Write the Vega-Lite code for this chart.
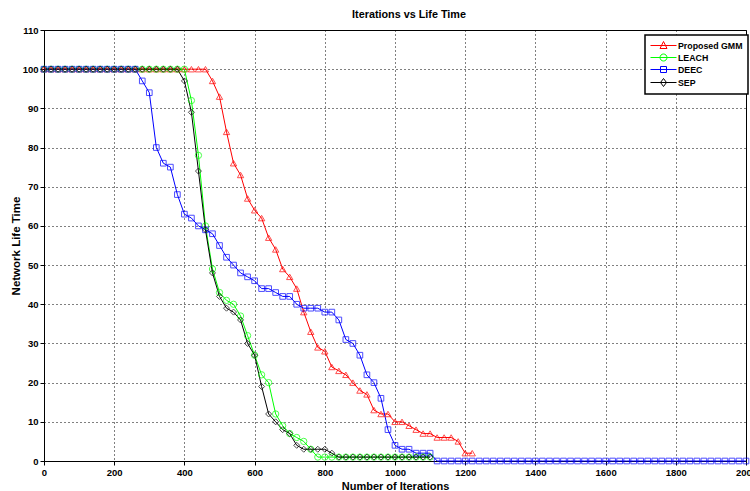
{
 "$schema": "https://vega.github.io/schema/vega-lite/v6.json",
 "width": 702, "height": 431,
 "autosize": {"type": "none"},
 "padding": {"left": 44, "top": 30, "right": 4, "bottom": 30},
 "background": "white",
 "title": {"text": "Iterations vs Life Time", "font": "Liberation Sans, Arial", "fontSize": 10.8, "fontWeight": "bold", "color": "black", "offset": 5, "dx": 14},
 "config": {
  "view": {"stroke": "black", "strokeWidth": 1},
  "axis": {
   "labelFont": "Liberation Sans, Arial", "labelFontSize": 9.5, "labelFontWeight": "bold", "labelColor": "black",
   "titleFont": "Liberation Sans, Arial", "titleFontSize": 11, "titleFontWeight": "bold", "titleColor": "black",
   "domainColor": "black", "domainWidth": 1, "tickColor": "black", "tickSize": 4,
   "grid": true, "gridColor": "black", "gridDash": [1, 3], "gridOpacity": 1, "gridWidth": 1
  },
  "legend": {
   "title": null, "orient": "none", "legendX": 601, "legendY": 5, "strokeColor": "black", "fillColor": "white", "padding": 5,
   "symbolSize": 100, "symbolStrokeWidth": 1, "labelOffset": 17, "rowPadding": 1,
   "labelFont": "Liberation Sans, Arial", "labelFontSize": 8.8, "labelFontWeight": "bold", "labelColor": "black"
  }
 },
 "data": {"values": [
  {"i":0,"GMM":100,"LEACH":100,"DEEC":100,"SEP":100},
  {"i":20,"GMM":100,"LEACH":100,"DEEC":100,"SEP":100},
  {"i":40,"GMM":100,"LEACH":100,"DEEC":100,"SEP":100},
  {"i":60,"GMM":100,"LEACH":100,"DEEC":100,"SEP":100},
  {"i":80,"GMM":100,"LEACH":100,"DEEC":100,"SEP":100},
  {"i":100,"GMM":100,"LEACH":100,"DEEC":100,"SEP":100},
  {"i":120,"GMM":100,"LEACH":100,"DEEC":100,"SEP":100},
  {"i":140,"GMM":100,"LEACH":100,"DEEC":100,"SEP":100},
  {"i":160,"GMM":100,"LEACH":100,"DEEC":100,"SEP":100},
  {"i":180,"GMM":100,"LEACH":100,"DEEC":100,"SEP":100},
  {"i":200,"GMM":100,"LEACH":100,"DEEC":100,"SEP":100},
  {"i":220,"GMM":100,"LEACH":100,"DEEC":100,"SEP":100},
  {"i":240,"GMM":100,"LEACH":100,"DEEC":100,"SEP":100},
  {"i":260,"GMM":100,"LEACH":100,"DEEC":100,"SEP":100},
  {"i":280,"GMM":100,"LEACH":100,"DEEC":97,"SEP":100},
  {"i":300,"GMM":100,"LEACH":100,"DEEC":94,"SEP":100},
  {"i":320,"GMM":100,"LEACH":100,"DEEC":80,"SEP":100},
  {"i":340,"GMM":100,"LEACH":100,"DEEC":76,"SEP":100},
  {"i":360,"GMM":100,"LEACH":100,"DEEC":75,"SEP":100},
  {"i":380,"GMM":100,"LEACH":100,"DEEC":68,"SEP":100},
  {"i":400,"GMM":100,"LEACH":100,"DEEC":63,"SEP":97},
  {"i":420,"GMM":100,"LEACH":92,"DEEC":62,"SEP":89},
  {"i":440,"GMM":100,"LEACH":78,"DEEC":60,"SEP":74},
  {"i":460,"GMM":100,"LEACH":60,"DEEC":59,"SEP":59},
  {"i":480,"GMM":97,"LEACH":49,"DEEC":58,"SEP":48},
  {"i":500,"GMM":93,"LEACH":43,"DEEC":55,"SEP":42},
  {"i":520,"GMM":84,"LEACH":41,"DEEC":52,"SEP":39},
  {"i":540,"GMM":76,"LEACH":40,"DEEC":50,"SEP":38},
  {"i":560,"GMM":73,"LEACH":37,"DEEC":48,"SEP":36},
  {"i":580,"GMM":67,"LEACH":32,"DEEC":47,"SEP":30},
  {"i":600,"GMM":64,"LEACH":27,"DEEC":46,"SEP":27},
  {"i":620,"GMM":62,"LEACH":22,"DEEC":44,"SEP":19},
  {"i":640,"GMM":57,"LEACH":20,"DEEC":44,"SEP":12},
  {"i":660,"GMM":54,"LEACH":12,"DEEC":43,"SEP":10},
  {"i":680,"GMM":49,"LEACH":9,"DEEC":42,"SEP":8},
  {"i":700,"GMM":47,"LEACH":7,"DEEC":42,"SEP":7},
  {"i":720,"GMM":44,"LEACH":6,"DEEC":40,"SEP":4},
  {"i":740,"GMM":38,"LEACH":5,"DEEC":39,"SEP":3},
  {"i":760,"GMM":33,"LEACH":3,"DEEC":39,"SEP":3},
  {"i":780,"GMM":29,"LEACH":1,"DEEC":39,"SEP":3},
  {"i":800,"GMM":28,"LEACH":1,"DEEC":38,"SEP":3},
  {"i":820,"GMM":24,"LEACH":1,"DEEC":38,"SEP":2},
  {"i":840,"GMM":23,"LEACH":1,"DEEC":36,"SEP":1},
  {"i":860,"GMM":22,"LEACH":1,"DEEC":31,"SEP":1},
  {"i":880,"GMM":20,"LEACH":1,"DEEC":30,"SEP":1},
  {"i":900,"GMM":18,"LEACH":1,"DEEC":27,"SEP":1},
  {"i":920,"GMM":17,"LEACH":1,"DEEC":22,"SEP":1},
  {"i":940,"GMM":13,"LEACH":1,"DEEC":20,"SEP":1},
  {"i":960,"GMM":12,"LEACH":1,"DEEC":16,"SEP":1},
  {"i":980,"GMM":12,"LEACH":1,"DEEC":8,"SEP":1},
  {"i":1000,"GMM":10,"LEACH":1,"DEEC":4,"SEP":1},
  {"i":1020,"GMM":10,"LEACH":1,"DEEC":3,"SEP":1},
  {"i":1040,"GMM":9,"LEACH":1,"DEEC":3,"SEP":1},
  {"i":1060,"GMM":8,"LEACH":1,"DEEC":2,"SEP":1},
  {"i":1080,"GMM":7,"LEACH":1,"DEEC":2,"SEP":1},
  {"i":1100,"GMM":7,"LEACH":1,"DEEC":2,"SEP":1},
  {"i":1120,"GMM":6,"DEEC":0},
  {"i":1140,"GMM":6,"DEEC":0},
  {"i":1160,"GMM":6,"DEEC":0},
  {"i":1180,"GMM":5,"DEEC":0},
  {"i":1200,"GMM":2,"DEEC":0},
  {"i":1220,"GMM":2,"DEEC":0},
  {"i":1240,"DEEC":0},{"i":1260,"DEEC":0},{"i":1280,"DEEC":0},{"i":1300,"DEEC":0},
  {"i":1320,"DEEC":0},{"i":1340,"DEEC":0},{"i":1360,"DEEC":0},{"i":1380,"DEEC":0},
  {"i":1400,"DEEC":0},{"i":1420,"DEEC":0},{"i":1440,"DEEC":0},{"i":1460,"DEEC":0},
  {"i":1480,"DEEC":0},{"i":1500,"DEEC":0},{"i":1520,"DEEC":0},{"i":1540,"DEEC":0},
  {"i":1560,"DEEC":0},{"i":1580,"DEEC":0},{"i":1600,"DEEC":0},{"i":1620,"DEEC":0},
  {"i":1640,"DEEC":0},{"i":1660,"DEEC":0},{"i":1680,"DEEC":0},{"i":1700,"DEEC":0},
  {"i":1720,"DEEC":0},{"i":1740,"DEEC":0},{"i":1760,"DEEC":0},{"i":1780,"DEEC":0},
  {"i":1800,"DEEC":0},{"i":1820,"DEEC":0},{"i":1840,"DEEC":0},{"i":1860,"DEEC":0},
  {"i":1880,"DEEC":0},{"i":1900,"DEEC":0},{"i":1920,"DEEC":0},{"i":1940,"DEEC":0},
  {"i":1960,"DEEC":0},{"i":1980,"DEEC":0},{"i":2000,"DEEC":0}
 ]},
 "transform": [
  {"fold": ["GMM", "LEACH", "DEEC", "SEP"], "as": ["series", "value"]},
  {"filter": "isValid(datum.value)"}
 ],
 "encoding": {
  "x": {"field": "i", "type": "quantitative", "scale": {"domain": [0, 2000], "nice": false},
        "axis": {"title": "Number of Iterations", "format": "d", "values": [0,200,400,600,800,1000,1200,1400,1600,1800,2000], "labelPadding": 2, "titlePadding": 4, "labelFlush": false}},
  "y": {"field": "value", "type": "quantitative", "scale": {"domain": [0, 110], "nice": false},
        "axis": {"title": "Network Life Time", "titleFontSize": 11.5, "values": [0,10,20,30,40,50,60,70,80,90,100,110], "labelPadding": 2, "titlePadding": 1}},
  "color": {"field": "series", "type": "nominal", "scale": {"domain": ["GMM", "LEACH", "DEEC", "SEP"], "range": ["#ff0000", "#00ff00", "#0000ff", "#000000"]},
    "legend": {
      "labelExpr": "datum.label == 'GMM' ? 'Proposed GMM' : datum.label",
      "encode": {"symbols": {"update": {"shape": {"signal": "datum.value == 'GMM' ? 'M-1,0H4.2M1.6,-0.8L2.3,0.6H0.9Z' : datum.value == 'LEACH' ? 'M-1,0H4.2M2.3,0A0.7,0.7 0 1,1 0.9,0A0.7,0.7 0 1,1 2.3,0' : datum.value == 'DEEC' ? 'M-1,0H4.2M1,-0.6H2.2V0.6H1Z' : 'M-1,0H4.2M1.6,-0.8L2.2,0L1.6,0.8L1,0Z'"}, "fill": {"value": "transparent"}}},
                 "legend": {"update": {"strokeWidth": {"value": 1.5}}}}}}
 },
 "layer": [
  {"mark": {"type": "line", "strokeWidth": 1}},
  {"transform": [{"filter": "datum.series == 'GMM'"}], "mark": {"type": "point", "filled": false, "size": 40, "strokeWidth": 1, "shape": "triangle-up"}},
  {"transform": [{"filter": "datum.series == 'LEACH'"}], "mark": {"type": "point", "filled": false, "size": 40, "strokeWidth": 1, "shape": "circle"}},
  {"transform": [{"filter": "datum.series == 'DEEC'"}], "mark": {"type": "point", "filled": false, "size": 32, "strokeWidth": 1, "shape": "square"}},
  {"transform": [{"filter": "datum.series == 'SEP'"}], "mark": {"type": "point", "filled": false, "size": 36, "strokeWidth": 1, "shape": "diamond"}}
 ]
}
